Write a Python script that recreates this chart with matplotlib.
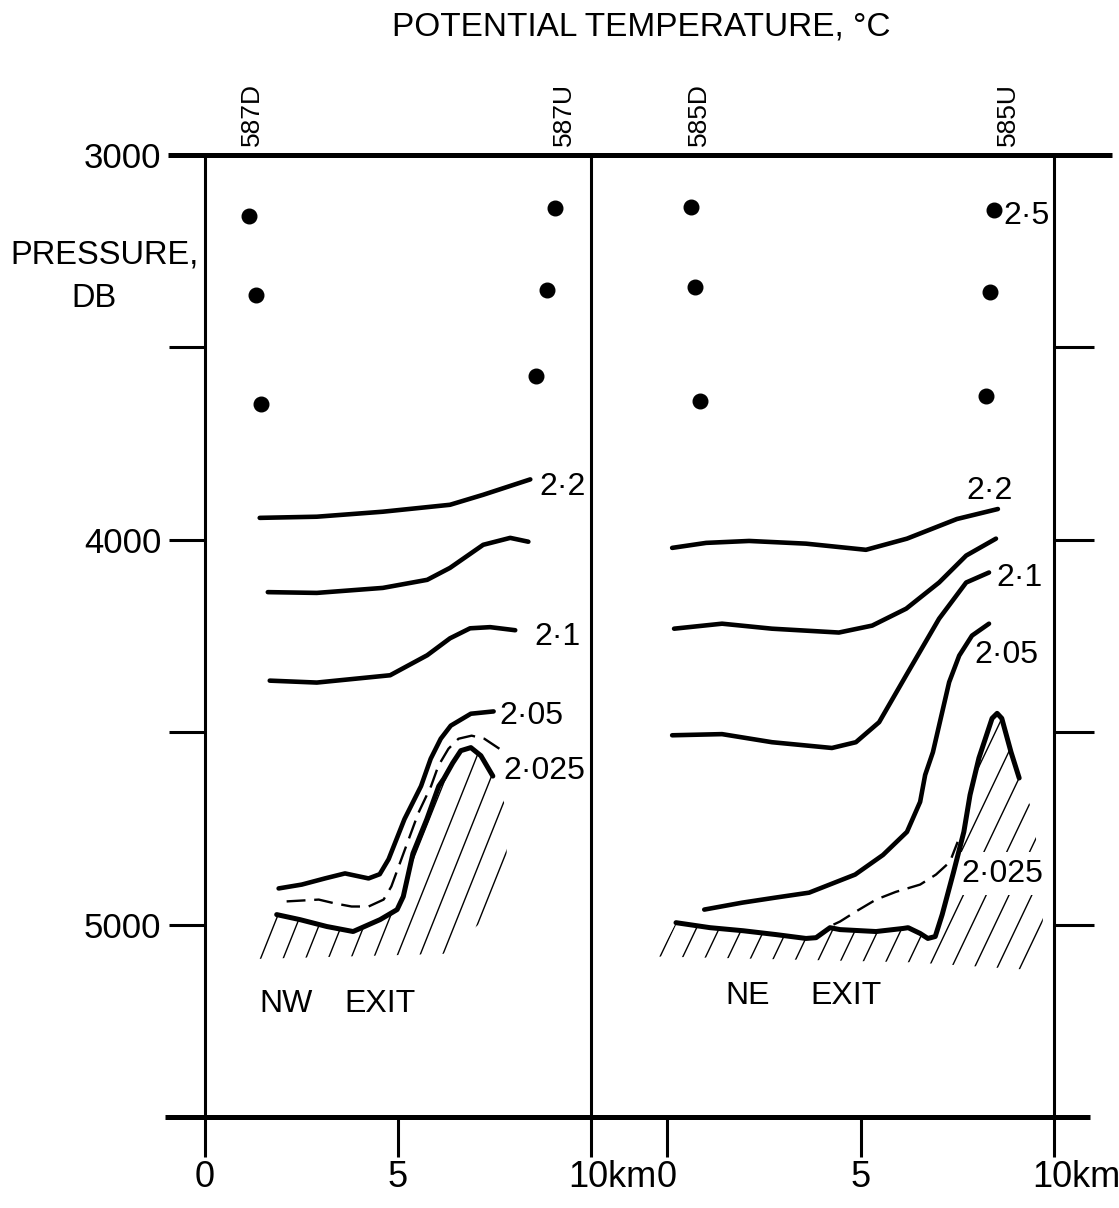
import matplotlib
matplotlib.use("Agg")
import matplotlib.pyplot as plt
import numpy as np
from matplotlib.collections import LineCollection
from matplotlib.patches import Polygon

plt.rcParams['font.family'] = ['Liberation Sans', 'DejaVu Sans']

# ---------------- data (distance km, pressure db) ----------------
# Left panel: NW exit (stations 587D / 587U)
L_DOTS_KM = [1.15, 1.34, 1.46, 9.07, 8.87, 8.60]
L_DOTS_DB = [3159, 3363, 3648, 3138, 3352, 3574]

L22_KM = [1.43, 2.91, 4.62, 6.36, 7.22, 8.44]
L22_DB = [3943, 3940, 3927, 3909, 3883, 3843]
L215_KM = [1.64, 2.91, 4.62, 5.77, 6.36, 7.22, 7.92, 8.39]
L215_DB = [4136, 4138, 4125, 4104, 4073, 4013, 3995, 4005]
L21_KM = [1.69, 2.91, 4.81, 5.77, 6.36, 6.88, 7.40, 8.05]
L21_DB = [4366, 4371, 4352, 4300, 4256, 4230, 4227, 4235]
L205_KM = [7.49, 6.90, 6.38, 6.12, 5.86, 5.61, 5.18, 4.77, 4.54, 4.25, 3.64, 3.12, 2.52, 1.92]
L205_DB = [4446, 4452, 4483, 4517, 4569, 4640, 4726, 4830, 4869, 4880, 4867, 4880, 4896, 4906]
L2025_KM = [7.64, 7.25, 6.92, 6.58, 6.32, 6.06, 5.87, 5.54, 5.10, 4.84, 4.64, 4.25, 3.81, 3.38, 2.96, 2.08]
L2025_DB = [4543, 4517, 4509, 4517, 4543, 4587, 4640, 4710, 4830, 4901, 4935, 4953, 4953, 4945, 4935, 4940]
LTOPO_KM = [1.87, 2.47, 3.17, 3.85, 4.55, 4.99, 5.15, 5.40, 5.76, 6.07, 6.20, 6.43, 6.64, 6.90, 7.16, 7.47]
LTOPO_DB = [4974, 4987, 5005, 5018, 4987, 4961, 4927, 4815, 4726, 4640, 4621, 4580, 4548, 4540, 4561, 4614]
# lower/right limit of the hatched ground
LGROUND_KM = [7.80, 7.85, 7.10, 6.19, 1.40]
LGROUND_DB = [4692, 4900, 5000, 5076, 5089]

# Right panel: NE exit (stations 585D / 585U)
R_DOTS_KM = [0.62, 0.72, 0.85, 8.45, 8.35, 8.25]
R_DOTS_DB = [3135, 3342, 3640, 3142, 3357, 3627]

R22_KM = [0.13, 1.01, 2.12, 3.59, 5.14, 6.20, 7.49, 8.55]
R22_DB = [4021, 4008, 4003, 4010, 4026, 3997, 3946, 3920]
R215_KM = [0.18, 1.42, 2.71, 4.44, 5.30, 6.18, 7.03, 7.73, 8.50]
R215_DB = [4231, 4218, 4231, 4241, 4223, 4179, 4111, 4041, 3997]
R21_KM = [0.13, 1.42, 2.71, 4.26, 4.88, 5.48, 6.18, 7.03, 7.73, 8.32]
R21_DB = [4508, 4505, 4526, 4541, 4526, 4474, 4352, 4205, 4111, 4085]
R205_KM = [8.32, 7.88, 7.55, 7.29, 7.11, 6.87, 6.67, 6.54, 6.20, 5.58, 4.86, 3.67, 2.79, 1.94, 0.96]
R205_DB = [4218, 4249, 4301, 4370, 4448, 4552, 4611, 4681, 4759, 4819, 4870, 4917, 4930, 4943, 4961]
R2025_KM = [4.30, 4.47, 4.88, 5.40, 5.91, 6.54, 6.95, 7.31, 7.51]
R2025_DB = [5000, 4992, 4966, 4935, 4915, 4896, 4870, 4837, 4785]
RTOPO_KM = [0.23, 1.11, 1.97, 2.82, 3.59, 3.85, 4.21, 4.47, 5.40, 6.10, 6.23, 6.54, 6.74, 6.93,
            7.11, 7.40, 7.67, 7.83, 8.06, 8.40, 8.53, 8.65, 8.89, 9.10]
RTOPO_DB = [4995, 5008, 5016, 5026, 5036, 5034, 5008, 5013, 5018, 5010, 5008, 5023, 5036, 5031,
            4974, 4865, 4759, 4663, 4567, 4464, 4451, 4464, 4552, 4619]
RGROUND_KM = [9.43, 9.74, 9.69, 9.30, 6.33, -0.23]
RGROUND_DB = [4702, 4922, 5039, 5117, 5098, 5083]

# contour labels: (text, km, db)
L_LABELS = [("2·2", 8.68, 3883), ("2·1", 8.55, 4274), ("2·05", 7.65, 4478), ("2·025", 7.73, 4621)]
R_LABELS = [("2·5", 8.70, 3179), ("2·2", 7.74, 3894), ("2·1", 8.51, 4119), ("2·05", 7.95, 4321)]
R_LABEL_2025 = ("2·025", 7.60, 4889)

STATIONS_L = [("587D", 1.23), ("587U", 9.30)]
STATIONS_R = [("585D", 0.83), ("585U", 8.81)]

Y_TICKS = [3000, 3500, 4000, 4500, 5000]
Y_TICKLABELS = ["3000", "", "4000", "", "5000"]
X_TICKS = [0, 5, 10]
X_TICKLABELS = ["0", "5", ""]

# ---------------- figure ----------------
W, H = 1119, 1208
fig = plt.figure(figsize=(W / 100, H / 100), dpi=100)
fig.patch.set_facecolor("white")

top_px, bot_px = 155, 1117
ybot = 1 - bot_px / H
yh = (bot_px - top_px) / H
ax1 = fig.add_axes([204.5 / W, ybot, (590.5 - 204.5) / W, yh])
ax2 = fig.add_axes([590.5 / W, ybot, (1054 - 590.5) / W, yh])

for ax, xl in ((ax1, (0, 10)), (ax2, (-1.98, 10))):
    ax.set_autoscale_on(False)
    ax.set_xlim(*xl)
    ax.set_ylim(5500, 3000)
    ax.set_facecolor("none")
    ax.spines["top"].set_linewidth(3.6)
    ax.spines["bottom"].set_linewidth(3.6)
    ax.spines["left"].set_linewidth(2.2)
    ax.spines["right"].set_linewidth(2.2)
    ax.set_xticks(X_TICKS)
    ax.set_xticklabels(X_TICKLABELS)
    ax.tick_params(axis="x", direction="out", length=29, width=2.2, pad=2, labelsize=26)
ax1.spines["right"].set_visible(False)

ax1.set_yticks(Y_TICKS)
ax1.set_yticklabels(Y_TICKLABELS)
ax1.tick_params(axis="y", direction="out", length=26, width=2.2, pad=5, labelsize=25)
ax2.yaxis.tick_right()
ax2.set_yticks(Y_TICKS[1:])
ax2.set_yticklabels([])
ax2.tick_params(axis="y", direction="out", length=29, width=2.2)

# frame extensions
ax1.plot([-0.95, 0], [3000, 3000], color="black", lw=3.6, solid_capstyle="butt", clip_on=False)
ax1.plot([-1.02, 0], [5500, 5500], color="black", lw=3.6, solid_capstyle="butt", clip_on=False)
ax2.plot([10, 11.5], [3000, 3000], color="black", lw=3.6, solid_capstyle="butt", clip_on=False)
ax2.plot([10, 10.93], [5500, 5500], color="black", lw=3.6, solid_capstyle="butt", clip_on=False)

for ax in (ax1, ax2):
    ax.annotate("10km", xy=(10, 5500), xytext=(-22, -(29 + 2) * 100 / 72), textcoords="offset pixels",
                ha="left", va="top", fontsize=26, annotation_clip=False)


def hatch(ax, topo_km, topo_db, edge_km, edge_db, k, x_ref, p_ref, spacing, x_max):
    verts = list(zip(topo_km, topo_db)) + list(zip(edge_km, edge_db))
    poly = Polygon(verts, closed=True, facecolor="none", edgecolor="none", transform=ax.transData)
    ax.add_patch(poly)
    xb = np.arange(x_ref, x_max, spacing)
    p_lo, p_hi = 5250, 4300
    segs = [[(x + (p_ref - p_lo) / k, p_lo), (x + (p_ref - p_hi) / k, p_hi)] for x in xb]
    lc = LineCollection(segs, colors="black", linewidths=1.0, zorder=2)
    ax.add_collection(lc)
    lc.set_clip_path(poly)


hatch(ax1, LTOPO_KM, LTOPO_DB, LGROUND_KM, LGROUND_DB, 251, 1.45, 5089, 0.585, 10)
hatch(ax2, RTOPO_KM, RTOPO_DB, RGROUND_KM, RGROUND_DB, 211, -0.18, 5083, 0.59, 10.5)

lw_c = 3.3
for ax, lines, dashed, topo, dots in (
        (ax1, [(L22_KM, L22_DB), (L215_KM, L215_DB), (L21_KM, L21_DB), (L205_KM, L205_DB)],
         (L2025_KM, L2025_DB), (LTOPO_KM, LTOPO_DB), (L_DOTS_KM, L_DOTS_DB)),
        (ax2, [(R22_KM, R22_DB), (R215_KM, R215_DB), (R21_KM, R21_DB), (R205_KM, R205_DB)],
         (R2025_KM, R2025_DB), (RTOPO_KM, RTOPO_DB), (R_DOTS_KM, R_DOTS_DB))):
    for xs, ys in lines:
        ax.plot(xs, ys, color="black", lw=lw_c, solid_capstyle="round", solid_joinstyle="round", zorder=3)
    ax.plot(dashed[0], dashed[1], color="black", lw=1.7, dashes=(8, 3.7), zorder=3)
    ax.plot(topo[0], topo[1], color="black", lw=3.6, solid_capstyle="round", solid_joinstyle="round", zorder=3)
    ax.plot(dots[0], dots[1], "o", color="black", ms=10.5, zorder=3)

for s, x, y in L_LABELS:
    ax1.text(x, y, s, ha="left", va="baseline", fontsize=23)
for s, x, y in R_LABELS:
    ax2.text(x, y, s, ha="left", va="baseline", fontsize=23)
s, x, y = R_LABEL_2025
ax2.text(x, y, s, ha="left", va="baseline", fontsize=23, zorder=2.5,
         bbox=dict(boxstyle="square,pad=0.2", facecolor="white", edgecolor="none"))

ax1.text(1.42, 5227, "NW", ha="left", va="baseline", fontsize=23)
ax1.text(3.63, 5227, "EXIT", ha="left", va="baseline", fontsize=23)
ax2.text(1.50, 5207, "NE", ha="left", va="baseline", fontsize=23)
ax2.text(3.70, 5207, "EXIT", ha="left", va="baseline", fontsize=23)

for ax, sts in ((ax1, STATIONS_L), (ax2, STATIONS_R)):
    for s, x in sts:
        ax.annotate(s, xy=(x, 3000), xytext=(0, 9), textcoords="offset pixels", rotation=90,
                    ha="center", va="bottom", fontsize=19, annotation_clip=False)

fig.text(641 / W, 1 - 35 / H, "POTENTIAL TEMPERATURE, °C", ha="center", va="baseline", fontsize=24)
fig.text(10 / W, 1 - 263 / H, "PRESSURE,", ha="left", va="baseline", fontsize=23.5)
fig.text(93.5 / W, 1 - 307 / H, "DB", ha="center", va="baseline", fontsize=23.5)

fig.savefig("out.png", dpi=100, facecolor="white")
